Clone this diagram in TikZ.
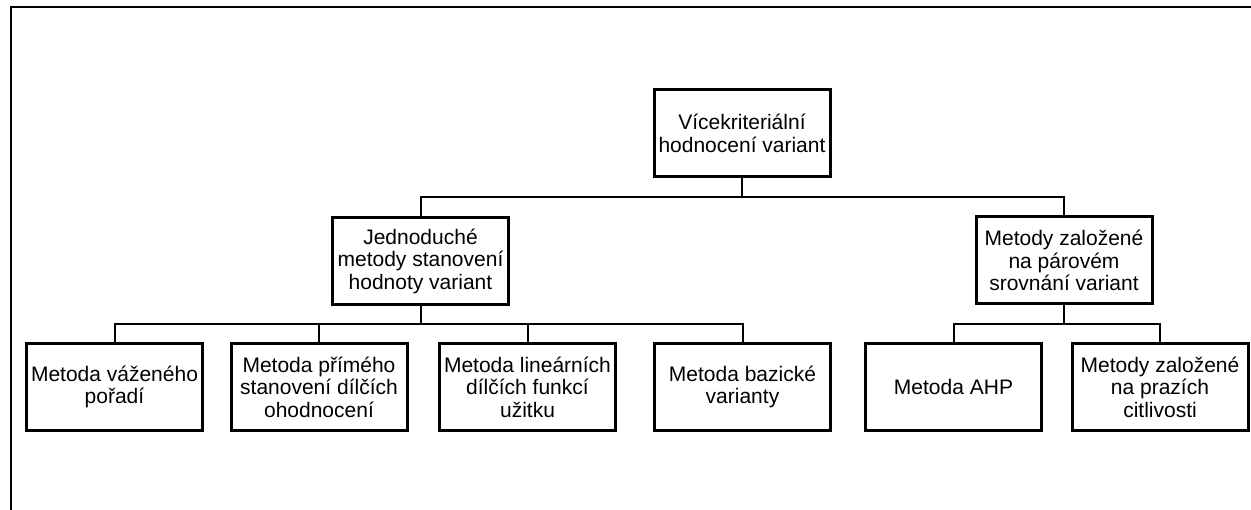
\documentclass[tikz,border=0pt]{standalone}
\usepackage{fontspec}
\setmainfont{Liberation Sans}
\begin{document}
\begin{tikzpicture}[x=1pt,y=1pt,
  boxnode/.style={draw=black, line width=3pt, fill=white, minimum width=176pt, minimum height=87pt,
    inner sep=0pt, align=center, font=\fontsize{21pt}{22.5pt}\selectfont, text=black},
  conn/.style={draw=black, line width=2pt}]
\useasboundingbox (0,0) rectangle (1251,-510);
\fill[white] (0,0) rectangle (1251,-510);
% outer frame (only top and left edges visible)
\coordinate (frTR) at (1251,-7.5);
\coordinate (frTL) at (10.5,-7.5);
\coordinate (frBL) at (10.5,-510);
\draw[line width=2pt] (frTR) -- (frTL) -- (frBL);

\node[boxnode] (top) at (742,-133.5) {Vícekriteriální\\hodnocení variant};
\node[boxnode] (J) at (420.5,-261) {Jednoduché\\metody stanovení\\hodnoty variant};
\node[boxnode] (P) at (1064,-260.5) {Metody založené\\na párovém\\srovnání variant};
\node[boxnode] (b1) at (114.5,-387) {Metoda váženého\\pořadí};
\node[boxnode] (b2) at (319,-387) {Metoda přímého\\stanovení dílčích\\ohodnocení};
\node[boxnode] (b3) at (527.5,-387) {Metoda lineárních\\dílčích funkcí\\užitku};
\node[boxnode] (b4) at (742.5,-387) {Metoda bazické\\varianty};
\node[boxnode] (b5) at (953.5,-387) {Metoda AHP};
\node[boxnode] (b6) at (1160,-387) {Metody založené\\na prazích\\citlivosti};

\coordinate (busA) at (0,-197);
\coordinate (busB) at (0,-324);
\coordinate (busC) at (0,-324.5);

\draw[conn] (top.south) -- (top.south |- busA);
\draw[conn] (J.north) -- (J.north |- busA) -- (P.north |- busA) -- (P.north);

\draw[conn] (J.south) -- (J.south |- busB);
\draw[conn] (b1.north) -- (b1.north |- busB) -- (b4.north |- busB) -- (b4.north);
\draw[conn] (b2.north) -- (b2.north |- busB);
\draw[conn] (b3.north) -- (b3.north |- busB);

\draw[conn] (P.south) -- (P.south |- busC);
\draw[conn] (b5.north) -- (b5.north |- busC) -- (b6.north |- busC) -- (b6.north);
\end{tikzpicture}
\end{document}
